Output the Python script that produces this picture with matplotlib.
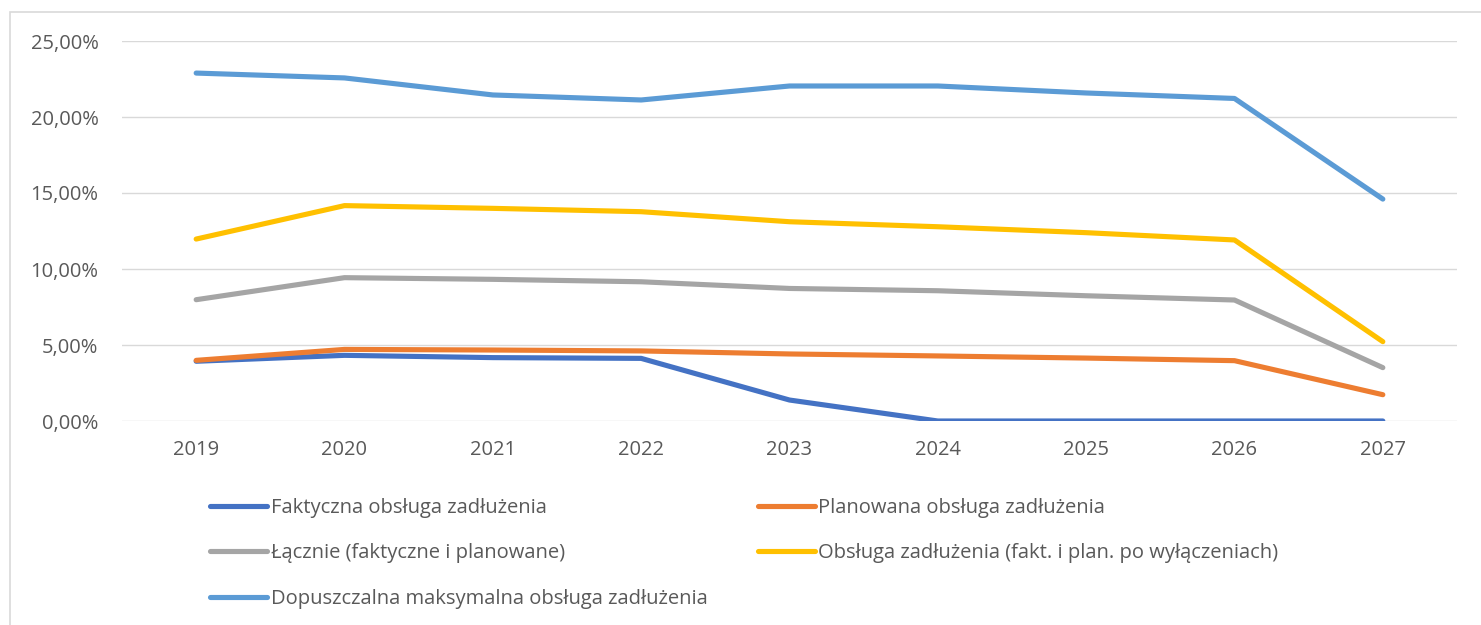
import matplotlib
matplotlib.use("Agg")
import matplotlib.pyplot as plt
from matplotlib.patches import Rectangle
from matplotlib.ticker import FuncFormatter

years = ["2019", "2020", "2021", "2022", "2023", "2024", "2025", "2026", "2027"]

faktyczna = [3.93, 4.32, 4.17, 4.12, 1.38, 0.0, 0.0, 0.0, 0.0]
planowana = [3.99, 4.71, 4.67, 4.61, 4.41, 4.28, 4.14, 3.97, 1.73]
lacznie = [7.98, 9.43, 9.32, 9.16, 8.72, 8.57, 8.24, 7.96, 3.51]
po_wylaczeniach = [11.97, 14.17, 13.99, 13.77, 13.11, 12.78, 12.39, 11.91, 5.22]
dopuszczalna = [22.89, 22.57, 21.45, 21.12, 22.04, 22.04, 21.58, 21.22, 14.60]

labels = [
    "Faktyczna obsługa zadłużenia",
    "Planowana obsługa zadłużenia",
    "Łącznie (faktyczne i planowane)",
    "Obsługa zadłużenia (fakt. i plan. po wyłączeniach)",
    "Dopuszczalna maksymalna obsługa zadłużenia",
]
colors = ["#4472C4", "#ED7D31", "#A5A5A5", "#FFC000", "#5B9BD5"]

plt.rcParams['font.family'] = ['Open Sans', 'DejaVu Sans']
FS = 14.5

W, H = 1481, 625
fig = plt.figure(figsize=(W / 100, H / 100), dpi=100)
ax = fig.add_axes([122 / W, 1 - 421 / H, (1457 - 122) / W, (421 - 41) / H])

x = list(range(len(years)))
lines = []
for ys, lab, c in zip([faktyczna, planowana, lacznie, po_wylaczeniach, dopuszczalna], labels, colors):
    ln, = ax.plot(x, ys, color=c, lw=3.7, label=lab, solid_capstyle="round", solid_joinstyle="round", zorder=3)
    lines.append(ln)

ax.set_xlim(-0.5, len(years) - 0.5)
ax.set_ylim(0, 25)
ax.set_yticks([0, 5, 10, 15, 20, 25])
ax.yaxis.set_major_formatter(FuncFormatter(lambda v, p: ("%.2f" % v).replace(".", ",") + "%"))
ax.set_xticks(x)
ax.set_xticklabels(years)
ax.grid(axis="y", color="#D9D9D9", lw=1.0)
ax.set_axisbelow(True)
for s in ax.spines.values():
    s.set_visible(False)
ax.tick_params(axis="both", length=0, colors="#595959", labelsize=FS)
ax.tick_params(axis="y", pad=17)
ax.tick_params(axis="x", pad=14)

# legend, filled row by row like the original
order = [0, 2, 4, 1, 3]
leg = fig.legend([lines[i] for i in order], [labels[i] for i in order],
                 loc="upper left", bbox_to_anchor=(196 / W, 1 - 484 / H), ncol=2,
                 frameon=False, fontsize=FS, handlelength=2.85, handletextpad=0.15,
                 columnspacing=2.5, labelspacing=1.26, borderpad=0.2)
for t in leg.get_texts():
    t.set_color("#595959")

# chart frame
fig.patches.append(Rectangle((10 / W, -0.1), 1.2, 1.1 - 12 / H, transform=fig.transFigure,
                             fill=False, edgecolor="#D9D9D9", lw=1.2))

fig.savefig("out.png", dpi=100)
